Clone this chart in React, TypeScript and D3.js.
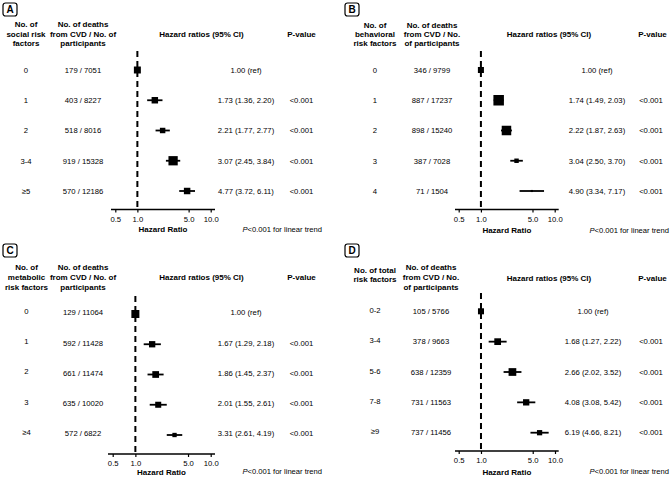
import React, { useEffect, useRef } from "react";
import * as d3 from "d3";

const FONT = "'Liberation Sans', Arial, Helvetica, sans-serif";

// Panel A - social risk factors
const socialCats = ["0", "1", "2", "3-4", "≥5"];
const socialDeaths = ["179 / 7051", "403 / 8227", "518 / 8016", "919 / 15328", "570 / 12186"];
const socialHR = [1.0, 1.73, 2.21, 3.07, 4.77];
const socialLo = [1.0, 1.36, 1.77, 2.45, 3.72];
const socialHi = [1.0, 2.2, 2.77, 3.84, 6.11];
const socialWeight = [44, 38, 27, 78, 38];
const socialP = ["", "<0.001", "<0.001", "<0.001", "<0.001"];

// Panel B - behavioral risk factors
const behavCats = ["0", "1", "2", "3", "4"];
const behavDeaths = ["346 / 9799", "887 / 17237", "898 / 15240", "387 / 7028", "71 / 1504"];
const behavHR = [1.0, 1.74, 2.22, 3.04, 4.9];
const behavLo = [1.0, 1.49, 1.87, 2.5, 3.34];
const behavHi = [1.0, 2.03, 2.63, 3.7, 7.17];
const behavWeight = [33, 100, 82, 18, 4];
const behavP = ["", "<0.001", "<0.001", "<0.001", "<0.001"];

// Panel C - metabolic risk factors
const metabCats = ["0", "1", "2", "3", "≥4"];
const metabDeaths = ["129 / 11064", "592 / 11428", "661 / 11474", "635 / 10020", "572 / 6822"];
const metabHR = [1.0, 1.67, 1.86, 2.01, 3.31];
const metabLo = [1.0, 1.29, 1.45, 1.55, 2.61];
const metabHi = [1.0, 2.18, 2.37, 2.61, 4.19];
const metabWeight = [58, 36, 41, 33, 17];
const metabP = ["", "<0.001", "<0.001", "<0.001", "<0.001"];

// Panel D - total risk factors
const totalCats = ["0-2", "3-4", "5-6", "7-8", "≥9"];
const totalDeaths = ["105 / 5766", "378 / 9663", "638 / 12359", "731 / 11563", "737 / 11456"];
const totalHR = [1.0, 1.68, 2.66, 4.08, 6.19];
const totalLo = [1.0, 1.27, 2.02, 3.08, 4.66];
const totalHi = [1.0, 2.22, 3.52, 5.42, 8.21];
const totalWeight = [33, 41, 54, 36, 25];
const totalP = ["", "<0.001", "<0.001", "<0.001", "<0.001"];

const hrTicks = [0.5, 1, 5, 10];

const panels = [
  {
    label: "A",
    cats: socialCats, deaths: socialDeaths, hr: socialHR, lo: socialLo, hi: socialHi,
    weight: socialWeight, pvals: socialP,
    catHead: ["No. of", "social risk", "factors"],
    deathHead: ["No. of deaths", "from CVD / No. of", "participants"],
    layout: {
      box: [3, 3], catX: 26, deathX: 83, hrX: 246, pX: 301.5, hrHeadX: 201.5, pHeadX: 301.5,
      xRange: [115.3, 210.7], axisExt: [111, 215], rowY: [70, 191], axisY: 209.5, dashTop: 51,
      catHeadY: [24, 34, 43], deathHeadY: [24, 34, 43], headY: 34, footY: 229.5, trendX: 322,
      catDy: 0, deathDy: 0,
    },
  },
  {
    label: "B",
    cats: behavCats, deaths: behavDeaths, hr: behavHR, lo: behavLo, hi: behavHi,
    weight: behavWeight, pvals: behavP,
    catHead: ["No. of", "behavioral", "risk  factors"],
    deathHead: ["No. of deaths", "from CVD / No.", "of participants"],
    layout: {
      box: [345, 3], catX: 375, deathX: 432, hrX: 597, pX: 651, hrHeadX: 549, pHeadX: 652.5,
      xRange: [458.7, 554.7], axisExt: [455, 558.7], rowY: [70, 191], axisY: 209.5, dashTop: 51,
      catHeadY: [25, 34, 43], deathHeadY: [25, 34, 43], headY: 34, footY: 230, trendX: 669,
      catDy: 0, deathDy: 0,
    },
  },
  {
    label: "C",
    cats: metabCats, deaths: metabDeaths, hr: metabHR, lo: metabLo, hi: metabHi,
    weight: metabWeight, pvals: metabP,
    catHead: ["No. of", "metabolic", "risk factors"],
    deathHead: ["No. of deaths", "from CVD / No. of", "participants"],
    layout: {
      box: [3, 244], catX: 26.5, deathX: 83, hrX: 246, pX: 301.5, hrHeadX: 201.5, pHeadX: 301.5,
      xRange: [112.7, 210.7], axisExt: [108, 215], rowY: [314, 435], axisY: 454, dashTop: 296,
      catHeadY: [267.3, 276.7, 286.7], deathHeadY: [267.3, 276.7, 286.7], headY: 276.7, footY: 471.7,
      trendX: 322, catDy: -3, deathDy: -1.5,
    },
  },
  {
    label: "D",
    cats: totalCats, deaths: totalDeaths, hr: totalHR, lo: totalLo, hi: totalHi,
    weight: totalWeight, pvals: totalP,
    catHead: ["No. of total", "risk factors"],
    deathHead: ["No. of deaths", "from CVD / No.", "of participants"],
    layout: {
      box: [345, 244], catX: 375, deathX: 431, hrX: 593, pX: 651, hrHeadX: 549, pHeadX: 652.5,
      xRange: [458.7, 555], axisExt: [455, 558.7], rowY: [311.3, 432.7], axisY: 451, dashTop: 293,
      catHeadY: [270, 279], deathHeadY: [266.7, 277, 287.5], headY: 277.7, footY: 471.7, trendX: 669,
      catDy: -1, deathDy: 0,
    },
  },
];

const Axis = ({ x, y, ext }) => {
  const ref = useRef(null);

  useEffect(() => {
    const g = d3.select(ref.current);
    g.selectAll("*").remove();
    g.call(
      d3.axisBottom(x)
        .tickValues(hrTicks)
        .tickFormat(d3.format(".1f"))
        .tickSize(3)
        .tickSizeOuter(0)
        .tickPadding(3.8)
    );
    g.select(".domain").remove();
    g.attr("font-family", FONT).attr("font-size", 7.7);
    g.selectAll(".tick line").attr("stroke", "#000").attr("stroke-width", 1.2);
    g.selectAll(".tick text").attr("fill", "#000");
    // axis line runs a little past the end ticks
    g.append("line")
      .attr("x1", ext[0])
      .attr("x2", ext[1])
      .attr("stroke", "#000")
      .attr("stroke-width", 1.5);
  }, [x, ext]);

  return <g ref={ref} transform={`translate(0,${y})`} />;
};

const Panel = ({ p }) => {
  const L = p.layout;
  const x = d3.scaleLog().domain([0.5, 10]).range(L.xRange);
  const y = d3.scalePoint().domain(p.cats).range(L.rowY);
  const size = d3.scaleSqrt().domain([0, 100]).range([0, 10.5]);
  const f = d3.format(".2f");
  const axisMid = (L.axisExt[0] + L.axisExt[1]) / 2;

  return (
    <g>
      {/* panel letter */}
      <rect x={L.box[0]} y={L.box[1]} width={14} height={13} rx={2.5}
        fill="none" stroke="#000" strokeWidth={1.2} />
      <text x={L.box[0] + 7} y={L.box[1] + 10.4} textAnchor="middle" fontSize={10} fontWeight="bold">
        {p.label}
      </text>

      {/* headers */}
      <g fontSize={8} fontWeight="bold" textAnchor="middle" style={{ whiteSpace: "pre" }}>
        {p.catHead.map((t, i) => (
          <text key={"c" + i} x={L.catX} y={L.catHeadY[i] + 2.8}>{t}</text>
        ))}
        {p.deathHead.map((t, i) => (
          <text key={"d" + i} x={L.deathX} y={L.deathHeadY[i] + 2.8}>{t}</text>
        ))}
        <text x={L.hrHeadX} y={L.headY + 2.8}>Hazard ratios (95%  CI)</text>
        <text x={L.pHeadX} y={L.headY + 2.8}>P-value</text>
      </g>

      {/* reference line at HR = 1 */}
      <line x1={x(1)} x2={x(1)} y1={L.dashTop} y2={L.axisY}
        stroke="#000" strokeWidth={2} strokeDasharray="6,4" />

      {/* rows */}
      {p.cats.map((c, i) => {
        const cy = y(c);
        const s = size(p.weight[i]);
        const hrText = i === 0 ? "1.00 (ref)" : `${f(p.hr[i])} (${f(p.lo[i])}, ${f(p.hi[i])})`;
        return (
          <g key={c} fontSize={7.7}>
            <text x={L.catX} y={cy + L.catDy + 2.75} textAnchor="middle">{c}</text>
            <text x={L.deathX} y={cy + L.deathDy + 2.75} textAnchor="middle">{p.deaths[i]}</text>
            {p.lo[i] !== p.hi[i] && (
              <line x1={x(p.lo[i])} x2={x(p.hi[i])} y1={cy} y2={cy} stroke="#000" strokeWidth={1.8} />
            )}
            <rect x={x(p.hr[i]) - s / 2} y={cy - s / 2} width={s} height={s} fill="#000" />
            <text x={L.hrX} y={cy + L.deathDy + 2.75} textAnchor="middle">{hrText}</text>
            <text x={L.pX} y={cy + L.deathDy + 2.75} textAnchor="middle">{p.pvals[i]}</text>
          </g>
        );
      })}

      <Axis x={x} y={L.axisY} ext={L.axisExt} />

      <text x={axisMid} y={L.footY + 2.8} textAnchor="middle" fontSize={8} fontWeight="bold">
        Hazard Ratio
      </text>
      <text x={L.trendX} y={L.footY + 2.7} textAnchor="end" fontSize={7.6}>
        <tspan fontStyle="italic">P</tspan>&lt;0.001 for linear trend
      </text>
    </g>
  );
};

export default function App() {
  return (
    <svg
      width={672}
      height={477}
      fontFamily={FONT}
      style={{ position: "absolute", left: 0, top: 0, background: "#fff" }}
    >
      {panels.map((p) => (
        <Panel key={p.label} p={p} />
      ))}
    </svg>
  );
}
